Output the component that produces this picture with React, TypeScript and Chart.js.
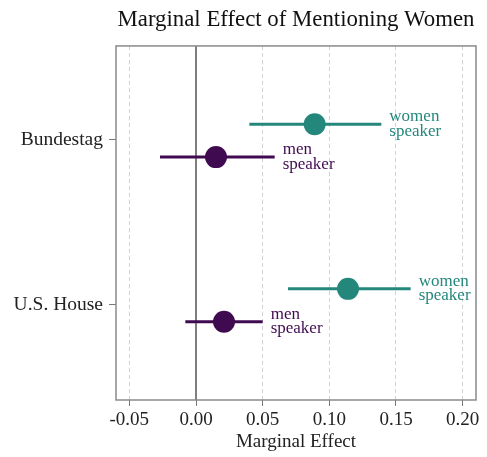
import React, { useEffect, useRef } from "react";
import { Chart, registerables } from "chart.js";

Chart.register(...registerables);

// ---- data ----
const chambers = ["Bundestag", "U.S. House"];
const chamberPos = [2, 1];
const womenEst = [0.089, 0.114];
const womenLo = [0.040, 0.069];
const womenHi = [0.139, 0.161];
const menEst = [0.015, 0.021];
const menLo = [-0.027, -0.008];
const menHi = [0.059, 0.050];
const xTicks = [-0.05, 0.0, 0.05, 0.1, 0.15, 0.2];
const groupLabels = [
  ["women", "speaker"],
  ["men", "speaker"],
];

// ---- style ----
const WOMEN = "#24877c";
const MEN = "#400a50";
const FONT = "'Liberation Serif', 'Times New Roman', serif";
const OFF_W = 0.095;
const OFF_M = -0.105;

export default function App() {
  const ref = useRef<HTMLCanvasElement | null>(null);

  useEffect(() => {
    if (!ref.current) return;
    document.body.style.margin = "0";

    const series = [
      { est: womenEst, lo: womenLo, hi: womenHi, off: OFF_W, color: WOMEN, label: groupLabels[0] },
      { est: menEst, lo: menLo, hi: menHi, off: OFF_M, color: MEN, label: groupLabels[1] },
    ];

    const datasets: any[] = [];
    series.forEach((s) => {
      datasets.push({
        type: "scatter",
        data: chamberPos.map((p, i) => ({ x: s.est[i], y: p + s.off })),
        pointRadius: 11,
        pointHoverRadius: 11,
        backgroundColor: s.color,
        borderWidth: 0,
        order: 0,
      });
    });
    series.forEach((s) => {
      chamberPos.forEach((p, i) => {
        datasets.push({
          type: "line",
          data: [
            { x: s.lo[i], y: p + s.off },
            { x: s.hi[i], y: p + s.off },
          ],
          borderColor: s.color,
          borderWidth: 3,
          pointRadius: 0,
          showLine: true,
          fill: false,
          order: 1,
        });
      });
    });

    const decor = {
      id: "decor",
      beforeDatasetsDraw(chart: any) {
        const { ctx, chartArea, scales } = chart;
        ctx.save();
        const x0 = scales.x.getPixelForValue(0);
        ctx.strokeStyle = "#555555";
        ctx.lineWidth = 1.5;
        ctx.beginPath();
        ctx.moveTo(x0, chartArea.top);
        ctx.lineTo(x0, chartArea.bottom);
        ctx.stroke();
        ctx.strokeStyle = "#8a8a8a";
        ctx.lineWidth = 1.5;
        ctx.strokeRect(
          chartArea.left,
          chartArea.top,
          chartArea.right - chartArea.left,
          chartArea.bottom - chartArea.top
        );
        ctx.restore();
      },
      afterDatasetsDraw(chart: any) {
        const { ctx, scales } = chart;
        ctx.save();
        ctx.font = `17px ${FONT}`;
        ctx.textAlign = "left";
        ctx.textBaseline = "alphabetic";
        series.forEach((s) => {
          chamberPos.forEach((p, i) => {
            const x = scales.x.getPixelForValue(s.hi[i]) + 8;
            const y = scales.y.getPixelForValue(p + s.off);
            ctx.fillStyle = s.color;
            ctx.fillText(s.label[0], x, y - 3);
            ctx.fillText(s.label[1], x, y + 11.5);
          });
        });
        ctx.restore();
      },
    };

    const chart = new Chart(ref.current, {
      type: "scatter",
      data: { datasets },
      plugins: [decor],
      options: {
        animation: false,
        responsive: false,
        devicePixelRatio: 1,
        layout: { padding: { left: 0, right: 9, top: 0, bottom: 0 } },
        plugins: {
          legend: { display: false },
          tooltip: { enabled: false },
          title: {
            display: true,
            text: "Marginal Effect of Mentioning Women",
            fullSize: false,
            color: "#111111",
            font: { family: FONT, size: 22.8, weight: "normal" },
            padding: { top: 6.5, bottom: 12.1 },
          },
        },
        scales: {
          x: {
            type: "linear",
            min: -0.06,
            max: 0.21,
            afterBuildTicks: (scale: any) => {
              scale.ticks = xTicks.map((v) => ({ value: v }));
            },
            afterFit: (scale: any) => {
              scale.height = 57;
            },
            ticks: {
              color: "#222222",
              font: { family: FONT, size: 19 },
              padding: 2.5,
              callback: (v: any) => Number(v).toFixed(2),
            },
            grid: {
              color: (c: any) => (c.tick && c.tick.value === 0 ? "rgba(0,0,0,0)" : "#d2d2d2"),
              lineWidth: 1,
              drawTicks: true,
              tickLength: 6,
              tickColor: "#777777",
              tickBorderDash: [],
            } as any,
            border: { display: false, dash: [4, 3] },
            title: {
              display: true,
              text: "Marginal Effect",
              color: "#222222",
              font: { family: FONT, size: 19 },
              padding: { top: 0, bottom: 4 },
            },
          },
          y: {
            type: "linear",
            min: 0.42,
            max: 2.57,
            afterBuildTicks: (scale: any) => {
              scale.ticks = chamberPos.map((v) => ({ value: v }));
            },
            afterFit: (scale: any) => {
              scale.width = 116;
            },
            ticks: {
              color: "#222222",
              font: { family: FONT, size: 19.5 },
              padding: 6,
              callback: (v: any) => {
                const idx = chamberPos.indexOf(Number(v));
                return idx >= 0 ? chambers[idx] : "";
              },
            },
            grid: {
              drawOnChartArea: false,
              drawTicks: true,
              tickLength: 7,
              color: "#777777",
            },
            border: { display: false },
          },
        },
      } as any,
    });

    return () => chart.destroy();
  }, []);

  return (
    <div style={{ position: "fixed", left: 0, top: 0, width: 487, height: 457, background: "#ffffff" }}>
      <canvas ref={ref} width={487} height={457} />
    </div>
  );
}
